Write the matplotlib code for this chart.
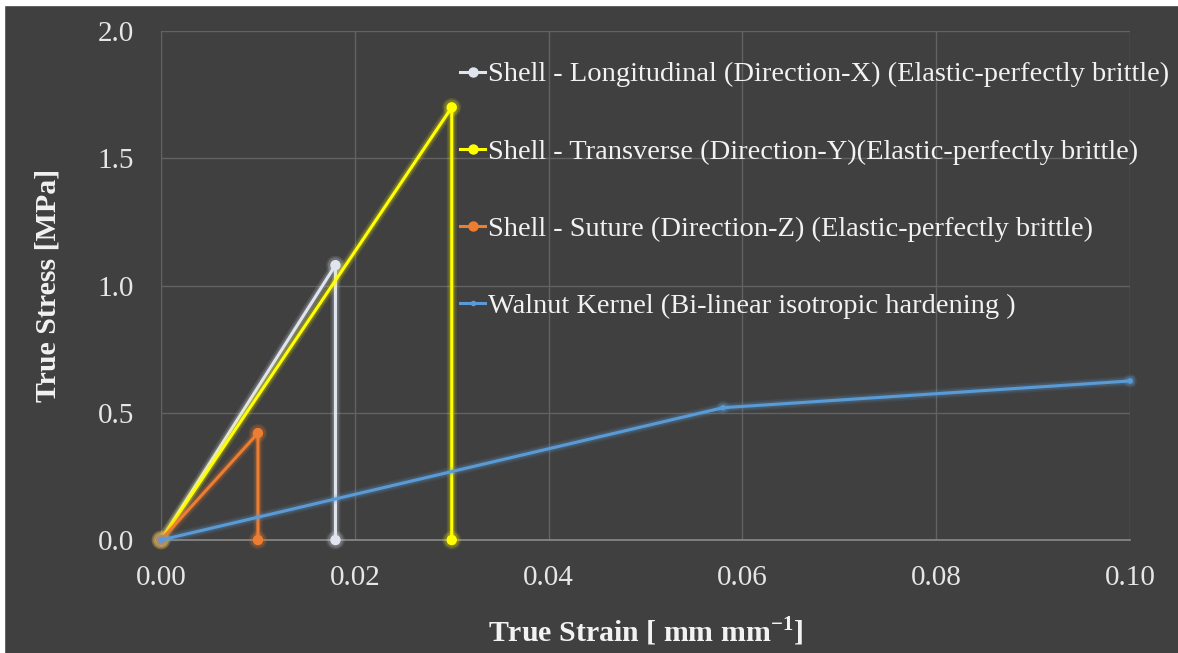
import matplotlib
matplotlib.use("Agg")
import matplotlib.pyplot as plt
from matplotlib.lines import Line2D
import matplotlib.patheffects as pe

# ---- data ----
long_x = [0.0, 0.018, 0.018]
long_y = [0.0, 1.08, 0.0]
trans_x = [0.0, 0.030, 0.030]
trans_y = [0.0, 1.70, 0.0]
sut_x = [0.0, 0.010, 0.010]
sut_y = [0.0, 0.42, 0.0]
wal_x = [0.0, 0.058, 0.100]
wal_y = [0.0, 0.52, 0.625]

labels = [
    "Shell - Longitudinal (Direction-X) (Elastic-perfectly brittle)",
    "Shell - Transverse (Direction-Y)(Elastic-perfectly brittle)",
    "Shell - Suture (Direction-Z) (Elastic-perfectly brittle)",
    "Walnut Kernel (Bi-linear isotropic hardening )",
]
xticks = [0.00, 0.02, 0.04, 0.06, 0.08, 0.10]
yticks = [0.0, 0.5, 1.0, 1.5, 2.0]

BG = "#404040"
plt.rcParams["font.family"] = ["Liberation Serif", "DejaVu Serif"]

fig = plt.figure(figsize=(11.78, 6.53), dpi=100, facecolor=BG)
# thin white border at top and left
fig.patches.append(plt.Rectangle((0, 0.992), 1, 0.008, transform=fig.transFigure,
                                 color="white", zorder=10))
fig.patches.append(plt.Rectangle((0, 0), 0.0035, 1, transform=fig.transFigure,
                                 color="white", zorder=10))

ax = fig.add_axes([0.1367, 0.173, 0.8226, 0.7795])
ax.set_facecolor(BG)

series = [
    (long_x, long_y, "#dfe4ee", 6.5, labels[0]),
    (trans_x, trans_y, "#ffff00", 6.5, labels[1]),
    (sut_x, sut_y, "#ed7d31", 6.5, labels[2]),
    (wal_x, wal_y, "#5b9bd5", 3.0, labels[3]),
]
handles = []
for i, (xs, ys, c, ms, lab) in enumerate(series):
    glow = [pe.Stroke(linewidth=7, foreground=c, alpha=0.12),
            pe.Stroke(linewidth=4.5, foreground=c, alpha=0.2),
            pe.Normal()]
    ln, = ax.plot(xs, ys, color=c, lw=2.2, marker="o", ms=ms, mec=c, mfc=c,
                  zorder=3 + i, path_effects=glow, clip_on=False)
    handles.append(Line2D([0], [0], color=c, lw=2.2, marker="o", ms=ms, mec=c, mfc=c))

ax.set_xlim(0, 0.10)
ax.set_ylim(0, 2.0)
ax.set_xticks(xticks)
ax.set_xticklabels([f"{v:.2f}" for v in xticks])
ax.set_yticks(yticks)
ax.set_yticklabels([f"{v:.1f}" for v in yticks])
ax.grid(True, color="#626262", lw=1.0)
ax.set_axisbelow(True)
for s in ["top", "right"]:
    ax.spines[s].set_visible(False)
ax.spines["left"].set_color("#626262")
ax.spines["bottom"].set_color("#8a8a8a")
ax.spines["bottom"].set_linewidth(1.2)
ax.tick_params(length=0, labelsize=21, colors="#e6e6e6")
ax.tick_params(axis="y", pad=19.5)
ax.tick_params(axis="x", pad=18)

ax.set_xlabel("True Strain [ mm mm$^{\\mathregular{-1}}$]", fontsize=21.5, fontweight="bold",
              color="#f2f2f2", labelpad=17)
ax.set_ylabel("True Stress [MPa]", fontsize=21.5, fontweight="bold", color="#f2f2f2",
              labelpad=26)

leg = ax.legend(handles, labels, loc="upper left", bbox_to_anchor=(0.309, 0.94),
                frameon=False, fontsize=20.5, handlelength=0.85, handletextpad=0.1,
                labelspacing=1.8, borderaxespad=0, borderpad=0)
for t in leg.get_texts():
    t.set_color("#f2f2f2")

fig.savefig("out.png", dpi=100, facecolor=BG)
